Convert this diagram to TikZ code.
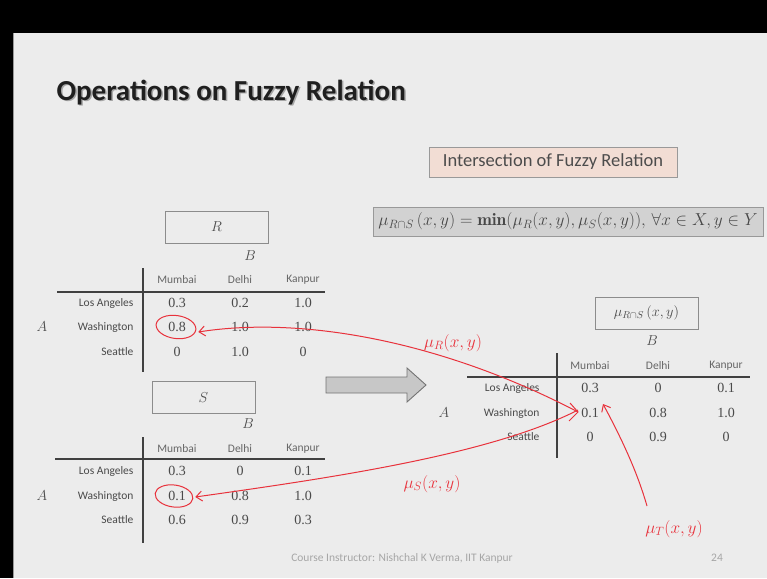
\documentclass[tikz,border=0pt]{standalone}
\usepackage{fontspec}
\usetikzlibrary{arrows.meta}
\newfontfamily\calib{Carlito}
\newfontfamily\numf{Liberation Serif}
\definecolor{slidebg}{HTML}{ECECEC}
\definecolor{txtgray}{HTML}{4A4A4A}
\definecolor{hdrgray}{HTML}{666666}
\definecolor{pinkbox}{HTML}{F2DDD4}
\definecolor{graybox}{HTML}{D2D2D2}
\definecolor{pen}{HTML}{E8323C}
\tikzset{
  hdr/.style={font=\calib\fontsize{11.5}{12}\selectfont, text=hdrgray},
  rowl/.style={font=\calib\fontsize{11.5}{13}\selectfont, text=txtgray, anchor=east},
  val/.style={font=\numf\fontsize{14}{16}\selectfont, text=txtgray},
  setl/.style={font=\fontsize{15}{16}\selectfont, text=black!70},
  tline/.style={draw=black!75, line width=1.3pt},
  lblbox/.style={draw=black!45, line width=0.8pt, fill=slidebg, minimum width=103pt, minimum height=32pt, text=txtgray, font=\fontsize{14}{16}\selectfont},
  ink/.style={draw=pen, line width=1pt},
  inktip/.style={ink, -{Straight Barb[length=6pt,width=10pt]}},
  inktxt/.style={text=pen, font=\fontsize{17}{19}\selectfont},
}
\begin{document}
\begin{tikzpicture}[x=1pt,y=-1pt]
\useasboundingbox (0,0) rectangle (767,578);
\fill[black] (0,0) rectangle (767,578);
\fill[slidebg] (13,33) rectangle (767,578);
\draw[black!40, line width=1pt] (13.5,33) -- (13.5,578);
% title
\node[anchor=base west, text=black!35, font=\calib\bfseries\fontsize{29}{34}\selectfont] at (54.5,101.5) {Operations on Fuzzy Relation};
\node[anchor=base west, text=black!88, font=\calib\bfseries\fontsize{29}{34}\selectfont] (title) at (53,100) {Operations on Fuzzy Relation};
% intersection heading
\node[draw=black!40, fill=pinkbox, line width=0.8pt, minimum width=248pt, minimum height=30pt, text=black!70, font=\calib\fontsize{18.5}{20}\selectfont] (inter) at (553,162) {Intersection of Fuzzy Relation};
\node[draw=black!40, fill=graybox, line width=0.8pt, minimum width=390pt, minimum height=29pt, text=black!72, font=\fontsize{17.5}{19}\selectfont] (formula) at (568,221.5)
  {$\mu_{R\cap S}\,(x,y) = \mathbf{min}(\mu_R(x,y),\mu_S(x,y)),\,\forall x\in X, y\in Y$};
% ---------- R table ----------
\node[lblbox] (Rbox) at (216.5,227) {$R$};
\node[setl] (RB) at (250,256) {$B$};
\node[setl] (RA) at (42,327) {$A$};
\draw[tline] (143,268) -- (143,372);
\draw[tline] (57,292) -- (325,292);
\foreach \n/\x in {Mumbai/177, Delhi/240, Kanpur/303} \node[hdr] (Rh\n) at (\x,280) {\n};
\foreach \n/\y [count=\i] in {Los Angeles/303, Washington/327, Seattle/352} \node[rowl] (Rr\i) at (137,\y) {\n};
\foreach \v/\x/\y [count=\k] in {0.3/177/303, 0.2/240/303, 1.0/303/303, 0.8/177/327, 1.0/240/327, 1.0/303/327, 0/177/352, 1.0/240/352, 0/303/352}
  \node[val] (Rv\k) at (\x,\y) {\v};
% ---------- S table ----------
\node[lblbox] (Sbox) at (203.5,397.5) {$S$};
\node[setl] (SB) at (248,424) {$B$};
\node[setl] (SA) at (42,496) {$A$};
\draw[tline] (143,437) -- (143,543);
\draw[tline] (55,459) -- (325,459);
\foreach \n/\x in {Mumbai/177, Delhi/240, Kanpur/303} \node[hdr] (Sh\n) at (\x,449) {\n};
\foreach \n/\y [count=\i] in {Los Angeles/471, Washington/496, Seattle/520} \node[rowl] (Sr\i) at (137,\y) {\n};
\foreach \v/\x/\y [count=\k] in {0.3/177/471, 0/240/471, 0.1/303/471, 0.1/177/496, 0.8/240/496, 1.0/303/496, 0.6/177/520, 0.9/240/520, 0.3/303/520}
  \node[val] (Sv\k) at (\x,\y) {\v};
% ---------- big arrow ----------
\draw[draw=black!55, fill=black!22, line width=0.9pt, line join=miter]
  (326,377) -- (407,377) -- (407,368) -- (426,385) -- (407,402) -- (407,393) -- (326,393) -- cycle;
% ---------- result table ----------
\node[lblbox] (Tbox) at (646.5,313) {$\mu_{R\cap S}\,(x,y)$};
\node[setl] (TB) at (652,341) {$B$};
\node[setl] (TA) at (444,413) {$A$};
\draw[tline] (557,353) -- (557,458);
\draw[tline] (467,377) -- (750,377);
\foreach \n/\x in {Mumbai/590, Delhi/658, Kanpur/726} \node[hdr] (Th\n) at (\x,366) {\n};
\foreach \n/\y [count=\i] in {Los Angeles/388, Washington/413, Seattle/437} \node[rowl] (Tr\i) at (543,\y) {\n};
\foreach \v/\x/\y [count=\k] in {0.3/590/388, 0/658/388, 0.1/726/388, 0.1/590/413, 0.8/658/413, 1.0/726/413, 0/590/437, 0.9/658/437, 0/726/437}
  \node[val] (Tv\k) at (\x,\y) {\v};
% footer
\node[text=black!35, font=\calib\fontsize{11.5}{13}\selectfont] (foot) at (402,558) {Course Instructor: Nishchal K Verma, IIT Kanpur};
\node[text=black!35, font=\calib\fontsize{11.5}{13}\selectfont] (pageno) at (717,558) {24};
% ---------- red annotations ----------
\draw[ink, rotate around={-8:(176,327)}] (176,327) ellipse (20pt and 11.5pt);
\draw[ink, rotate around={-8:(174,496)}] (174,496) ellipse (19pt and 11pt);
\coordinate (meet) at (578,412);
\coordinate (Rtip) at ([xshift=9pt,yshift=-5pt]Rv4.east);
\coordinate (Stip) at ([xshift=6pt,yshift=-1pt]Sv4.east);
\draw[inktip] (meet) .. controls (440,340) and (300,316) .. (Rtip);
\draw[inktip] ([yshift=2pt]meet) .. controls (490,455) and (330,478) .. (Stip);
\draw[ink] (570,403) -- (meet) -- (569,421);
\coordinate (Tstart) at (647,506);
\coordinate (Ttip) at ([xshift=13pt,yshift=9pt]Tv4.center);
\draw[inktip] (Tstart) .. controls (638,475) and (625,445) .. (Ttip);
\node[inktxt] (muR) at (453,343) {$\mu_R(x,y)$};
\node[inktxt] (muS) at (432,484) {$\mu_S(x,y)$};
\node[inktxt] (muT) at (674,529) {$\mu_T(x,y)$};
\end{tikzpicture}
\end{document}
